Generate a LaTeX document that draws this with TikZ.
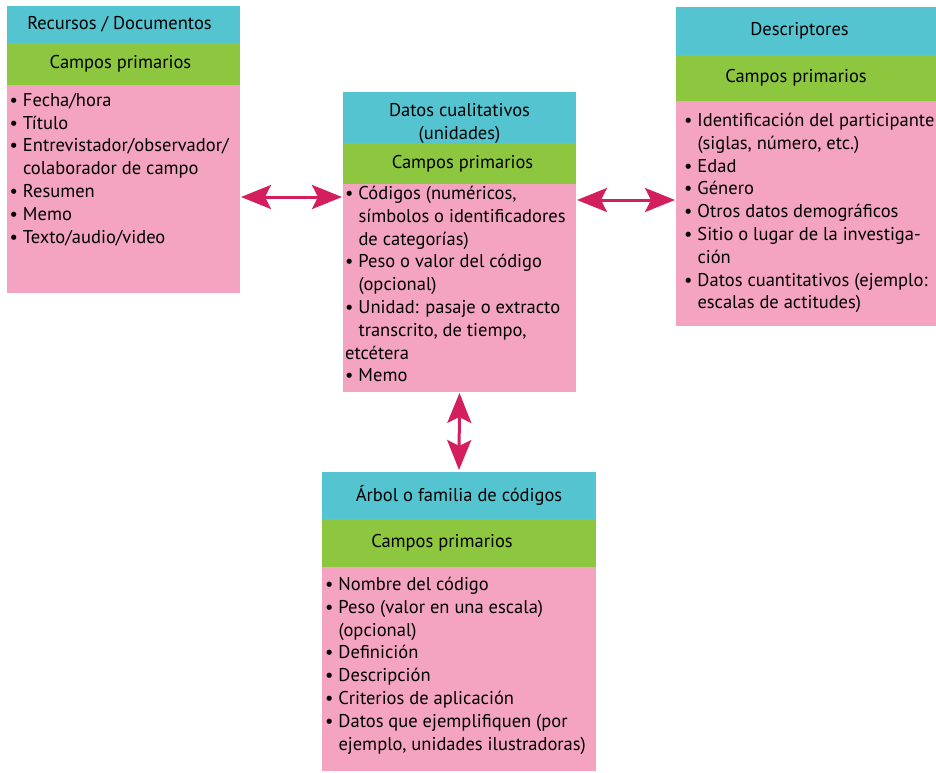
\documentclass[tikz,border=0pt]{standalone}
\usepackage{fontspec}
\setmainfont{PT Sans}
\usetikzlibrary{arrows.meta,positioning}

\definecolor{cian}{HTML}{55C4D1}
\definecolor{verde}{HTML}{8DC63F}
\definecolor{rosa}{HTML}{F4A3C0}
\definecolor{flecha}{HTML}{D41F5E}

\newcommand{\vi}{\textbullet\ }
\newcommand{\sg}{\phantom{\textbullet\ }}

\begin{document}
\begin{tikzpicture}[x=1pt, y=-1pt, font=\fontsize{18.5}{22.8}\selectfont,
          titulo/.style={rectangle, fill=cian, inner sep=0pt, outer sep=0pt, align=center},
          campos/.style={rectangle, fill=verde, inner sep=0pt, outer sep=0pt},
          fondo/.style={rectangle, fill=rosa, inner sep=0pt, outer sep=0pt},
          lista/.style={inner sep=0pt, align=left, anchor=north west},
          doble/.style={{Stealth[length=30pt, width=24pt, inset=6pt]}-{Stealth[length=30pt, width=24pt, inset=6pt]}, line width=3pt, color=flecha}]

          \useasboundingbox (0,0) rectangle (936,772);

          % Recursos / Documentos
          \node[titulo, anchor=north west, minimum width=233pt, minimum height=37pt, text depth=4pt] (rectit) at (7,6) {\hspace*{-8pt}Recursos / Documentos};
          \node[campos, below=0pt of rectit, minimum width=233pt, minimum height=42pt] (reccam) {\hspace*{-6pt}Campos primarios};
          \node[fondo, below=0pt of reccam, minimum width=233pt, minimum height=208pt] (recfon) {};
          \node[lista, below right=8pt and 2.5pt of recfon.north west] (reclis) {\vi Fecha/hora\\
            \vi Título\\
            \vi Entrevistador/observador/\\
            \sg colaborador de campo\\
            \vi Resumen\\
            \vi Memo\\
            \vi Texto/audio/video};

          % Datos cualitativos
          \node[titulo, anchor=north west, minimum width=233pt, minimum height=51pt, text height=44pt, text depth=0pt] (dattit) at (343,92) {Datos cualitativos\\(unidades)};
          \node[campos, below=0pt of dattit, minimum width=233pt, minimum height=41pt] (datcam) {\hspace*{6pt}Campos primarios};
          \node[fondo, below=0pt of datcam, minimum width=233pt, minimum height=208pt] (datfon) {};
          \node[lista, below right=2pt and 2pt of datfon.north west] (datlis) {\vi Códigos (numéricos,\\
            \sg símbolos o identificadores\\
            \sg de categorías)\\
            \vi Peso o valor del código\\
            \sg (opcional)\\
            \vi Unidad: pasaje o extracto\\
            \sg transcrito, de tiempo,\\
            etcétera\\
            \vi Memo};

          % Descriptores
          \node[titulo, anchor=north west, minimum width=262pt, minimum height=48pt] (destit) at (676,7) {\hspace*{-15pt}Descriptores};
          \node[campos, below=0pt of destit, minimum width=262pt, minimum height=46pt] (descam) {\hspace*{-22pt}Campos primarios};
          \node[fondo, below=0pt of descam, minimum width=262pt, minimum height=225pt] (desfon) {};
          \node[lista, below right=12pt and 8pt of desfon.north west] (deslis) {\vi Identificación del participante\\
            \sg (siglas, número, etc.)\\
            \vi Edad\\
            \vi Género\\
            \vi Otros datos demográficos\\
            \vi Sitio o lugar de la investiga-\\
            \sg ción\\
            \vi Datos cuantitativos (ejemplo:\\
            \sg escalas de actitudes)};

          % Arbol o familia de codigos
          \node[titulo, anchor=north west, minimum width=274pt, minimum height=47pt, text depth=4pt] (arbtit) at (322,472) {Árbol o familia de códigos};
          \node[campos, below=0pt of arbtit, minimum width=274pt, minimum height=48pt] (arbcam) {\hspace*{-34pt}Campos primarios};
          \node[fondo, below=0pt of arbcam, minimum width=274pt, minimum height=204pt] (arbfon) {};
          \node[lista, below right=10pt and 3pt of arbfon.north west] (arblis) {\vi Nombre del código\\
            \vi Peso (valor en una escala)\\
            \sg (opcional)\\
            \vi Definición\\
            \vi Descripción\\
            \vi Criterios de aplicación\\
            \vi Datos que ejemplifiquen (por\\
            \sg ejemplo, unidades ilustradoras)};

          \draw[doble, shorten <=1pt, shorten >=1pt] (recfon.east |- 0,197) -- (datfon.west |- 0,197);
          \draw[doble, shorten <=1pt, shorten >=1pt] (datfon.east |- 0,200) -- (desfon.west |- 0,200);
          \draw[doble, shorten <=1pt, shorten >=2pt] (datfon.south) -- (arbtit.north);
        \end{tikzpicture}
\end{document}
